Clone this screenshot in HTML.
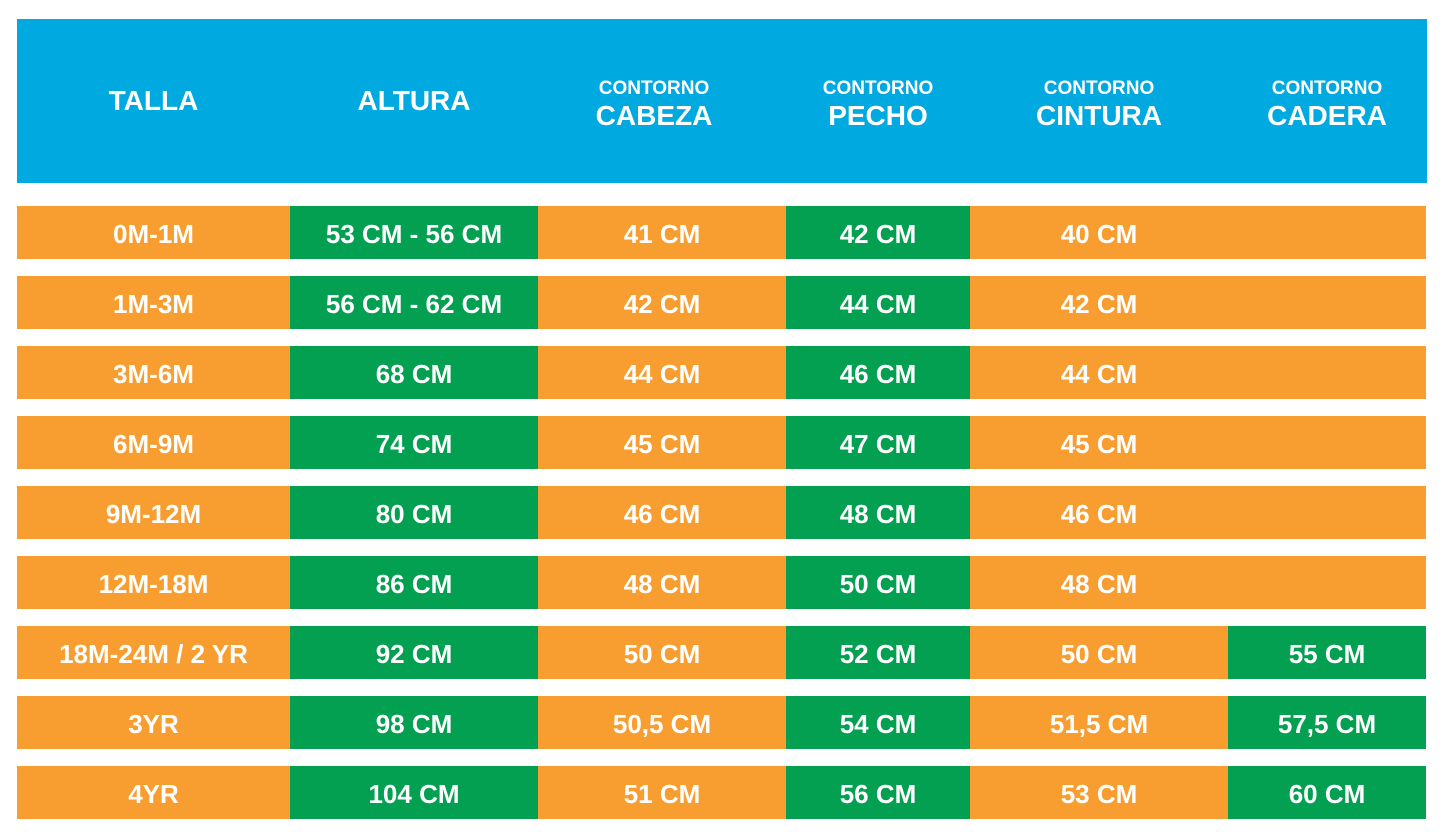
<!DOCTYPE html>
<html><head><style>
body{margin:0;background:#fff;width:1445px;height:832px;position:relative;font-family:"Liberation Sans",sans-serif;font-weight:bold;color:#fff;overflow:hidden}
.h{position:absolute;left:17px;top:19px;width:1410px;height:164px;background:#00a9e0}
.c{position:absolute;display:flex;align-items:center;justify-content:center;flex-direction:column;text-align:center}
.o{background:#f89e31}.g{background:#03a052}
.r{font-size:26px;padding-top:4px;box-sizing:border-box}
.sm{font-size:19px;line-height:22px}.lg{font-size:28px;line-height:32px}
.two{padding-top:8px;box-sizing:border-box}
</style></head><body>
<div class="h"></div>
<div class="c lg" style="left:17px;top:19px;width:273px;height:164px">TALLA</div>
<div class="c lg" style="left:290px;top:19px;width:248px;height:164px">ALTURA</div>
<div class="c two" style="left:530px;top:19px;width:248px;height:164px"><span class="sm">CONTORNO</span><span class="lg">CABEZA</span></div>
<div class="c two" style="left:786px;top:19px;width:184px;height:164px"><span class="sm">CONTORNO</span><span class="lg">PECHO</span></div>
<div class="c two" style="left:970px;top:19px;width:258px;height:164px"><span class="sm">CONTORNO</span><span class="lg">CINTURA</span></div>
<div class="c two" style="left:1228px;top:19px;width:198px;height:164px"><span class="sm">CONTORNO</span><span class="lg">CADERA</span></div>
<div id="rows"></div>
<script>
var d=[["0M-1M","53 CM - 56 CM","41 CM","42 CM","40 CM",""],
["1M-3M","56 CM - 62 CM","42 CM","44 CM","42 CM",""],
["3M-6M","68 CM","44 CM","46 CM","44 CM",""],
["6M-9M","74 CM","45 CM","47 CM","45 CM",""],
["9M-12M","80 CM","46 CM","48 CM","46 CM",""],
["12M-18M","86 CM","48 CM","50 CM","48 CM",""],
["18M-24M / 2 YR","92 CM","50 CM","52 CM","50 CM","55 CM"],
["3YR","98 CM","50,5 CM","54 CM","51,5 CM","57,5 CM"],
["4YR","104 CM","51 CM","56 CM","53 CM","60 CM"]];
var x=[17,290,538,786,970,1228,1426],h="";
d.forEach(function(r,i){var t=206+70*i;
for(var j=0;j<6;j++){var cl=(j%2)?"g":"o";if(j==5)cl=r[5]?"g":"o";
var w=x[j+1]-x[j];h+='<div class="c r '+cl+'" style="left:'+x[j]+'px;top:'+t+'px;width:'+w+'px;height:53px">'+r[j]+'</div>';}});
document.getElementById("rows").innerHTML=h;
</script>
</body></html>
